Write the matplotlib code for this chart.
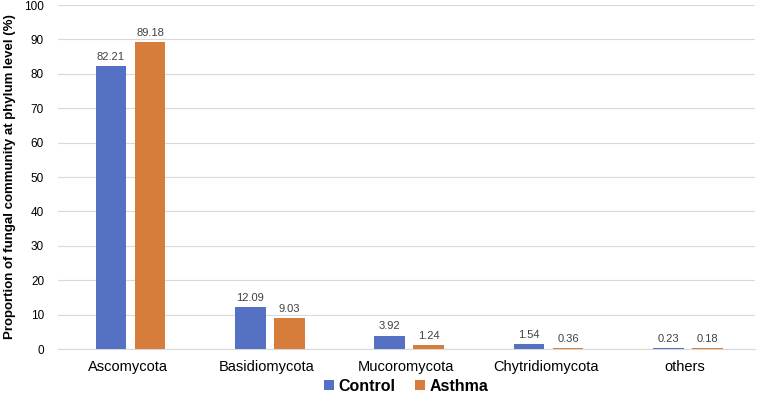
import numpy as np
import matplotlib.pyplot as plt

# --- data
phyla   = ["Ascomycota", "Basidiomycota", "Mucoromycota", "Chytridiomycota", "others"]
control = [82.21, 12.09, 3.92, 1.54, 0.23]
asthma  = [89.18, 9.03, 1.24, 0.36, 0.18]
yticks  = [0, 10, 20, 30, 40, 50, 60, 70, 80, 90, 100]

blue   = "#5471C4"
orange = "#D77D3B"

plt.rcParams['font.family'] = ['Liberation Sans', 'DejaVu Sans']

fig = plt.figure(figsize=(7.57, 4.0), dpi=100)
ax = fig.add_axes([0.0766, 0.1275, 0.9204, 0.86])

x = np.arange(len(phyla))
w = 0.22
b1 = ax.bar(x - 0.12, control, w, color=blue, label="Control", zorder=3)
b2 = ax.bar(x + 0.16, asthma, w, color=orange, label="Asthma", zorder=3)

for bars in (b1, b2):
    for r in bars:
        ax.text(r.get_x() + r.get_width() / 2, r.get_height() + 1.2,
                f"{r.get_height():.2f}", ha="center", va="bottom",
                fontsize=8, color="#404040")

ax.set_xlim(-0.5, len(phyla) - 0.5)
ax.set_ylim(0, 100)
ax.set_yticks(yticks)
ax.set_xticks(x)
ax.set_xticklabels(phyla, fontsize=10.5)
ax.tick_params(axis="y", labelsize=8.5, length=0, pad=10)
ax.tick_params(axis="x", length=0, pad=8)
ax.grid(axis="y", color="#D9D9D9", linewidth=0.8, zorder=0)
for s in ["top", "right", "left"]:
    ax.spines[s].set_visible(False)
ax.spines["bottom"].set_color("#D9D9D9")

ax.set_ylabel("Proportion of fungal community at phylum level (%)",
              fontsize=9.5, fontweight="bold", labelpad=6)

ax.legend(loc="center", bbox_to_anchor=(0.5, -0.108), ncol=2,
          frameon=False, prop={"weight": "bold", "size": 11.5},
          handlelength=0.6, handleheight=0.6, handletextpad=0.3,
          columnspacing=1.2, borderpad=0.1)

fig.savefig("out.png", dpi=100)
